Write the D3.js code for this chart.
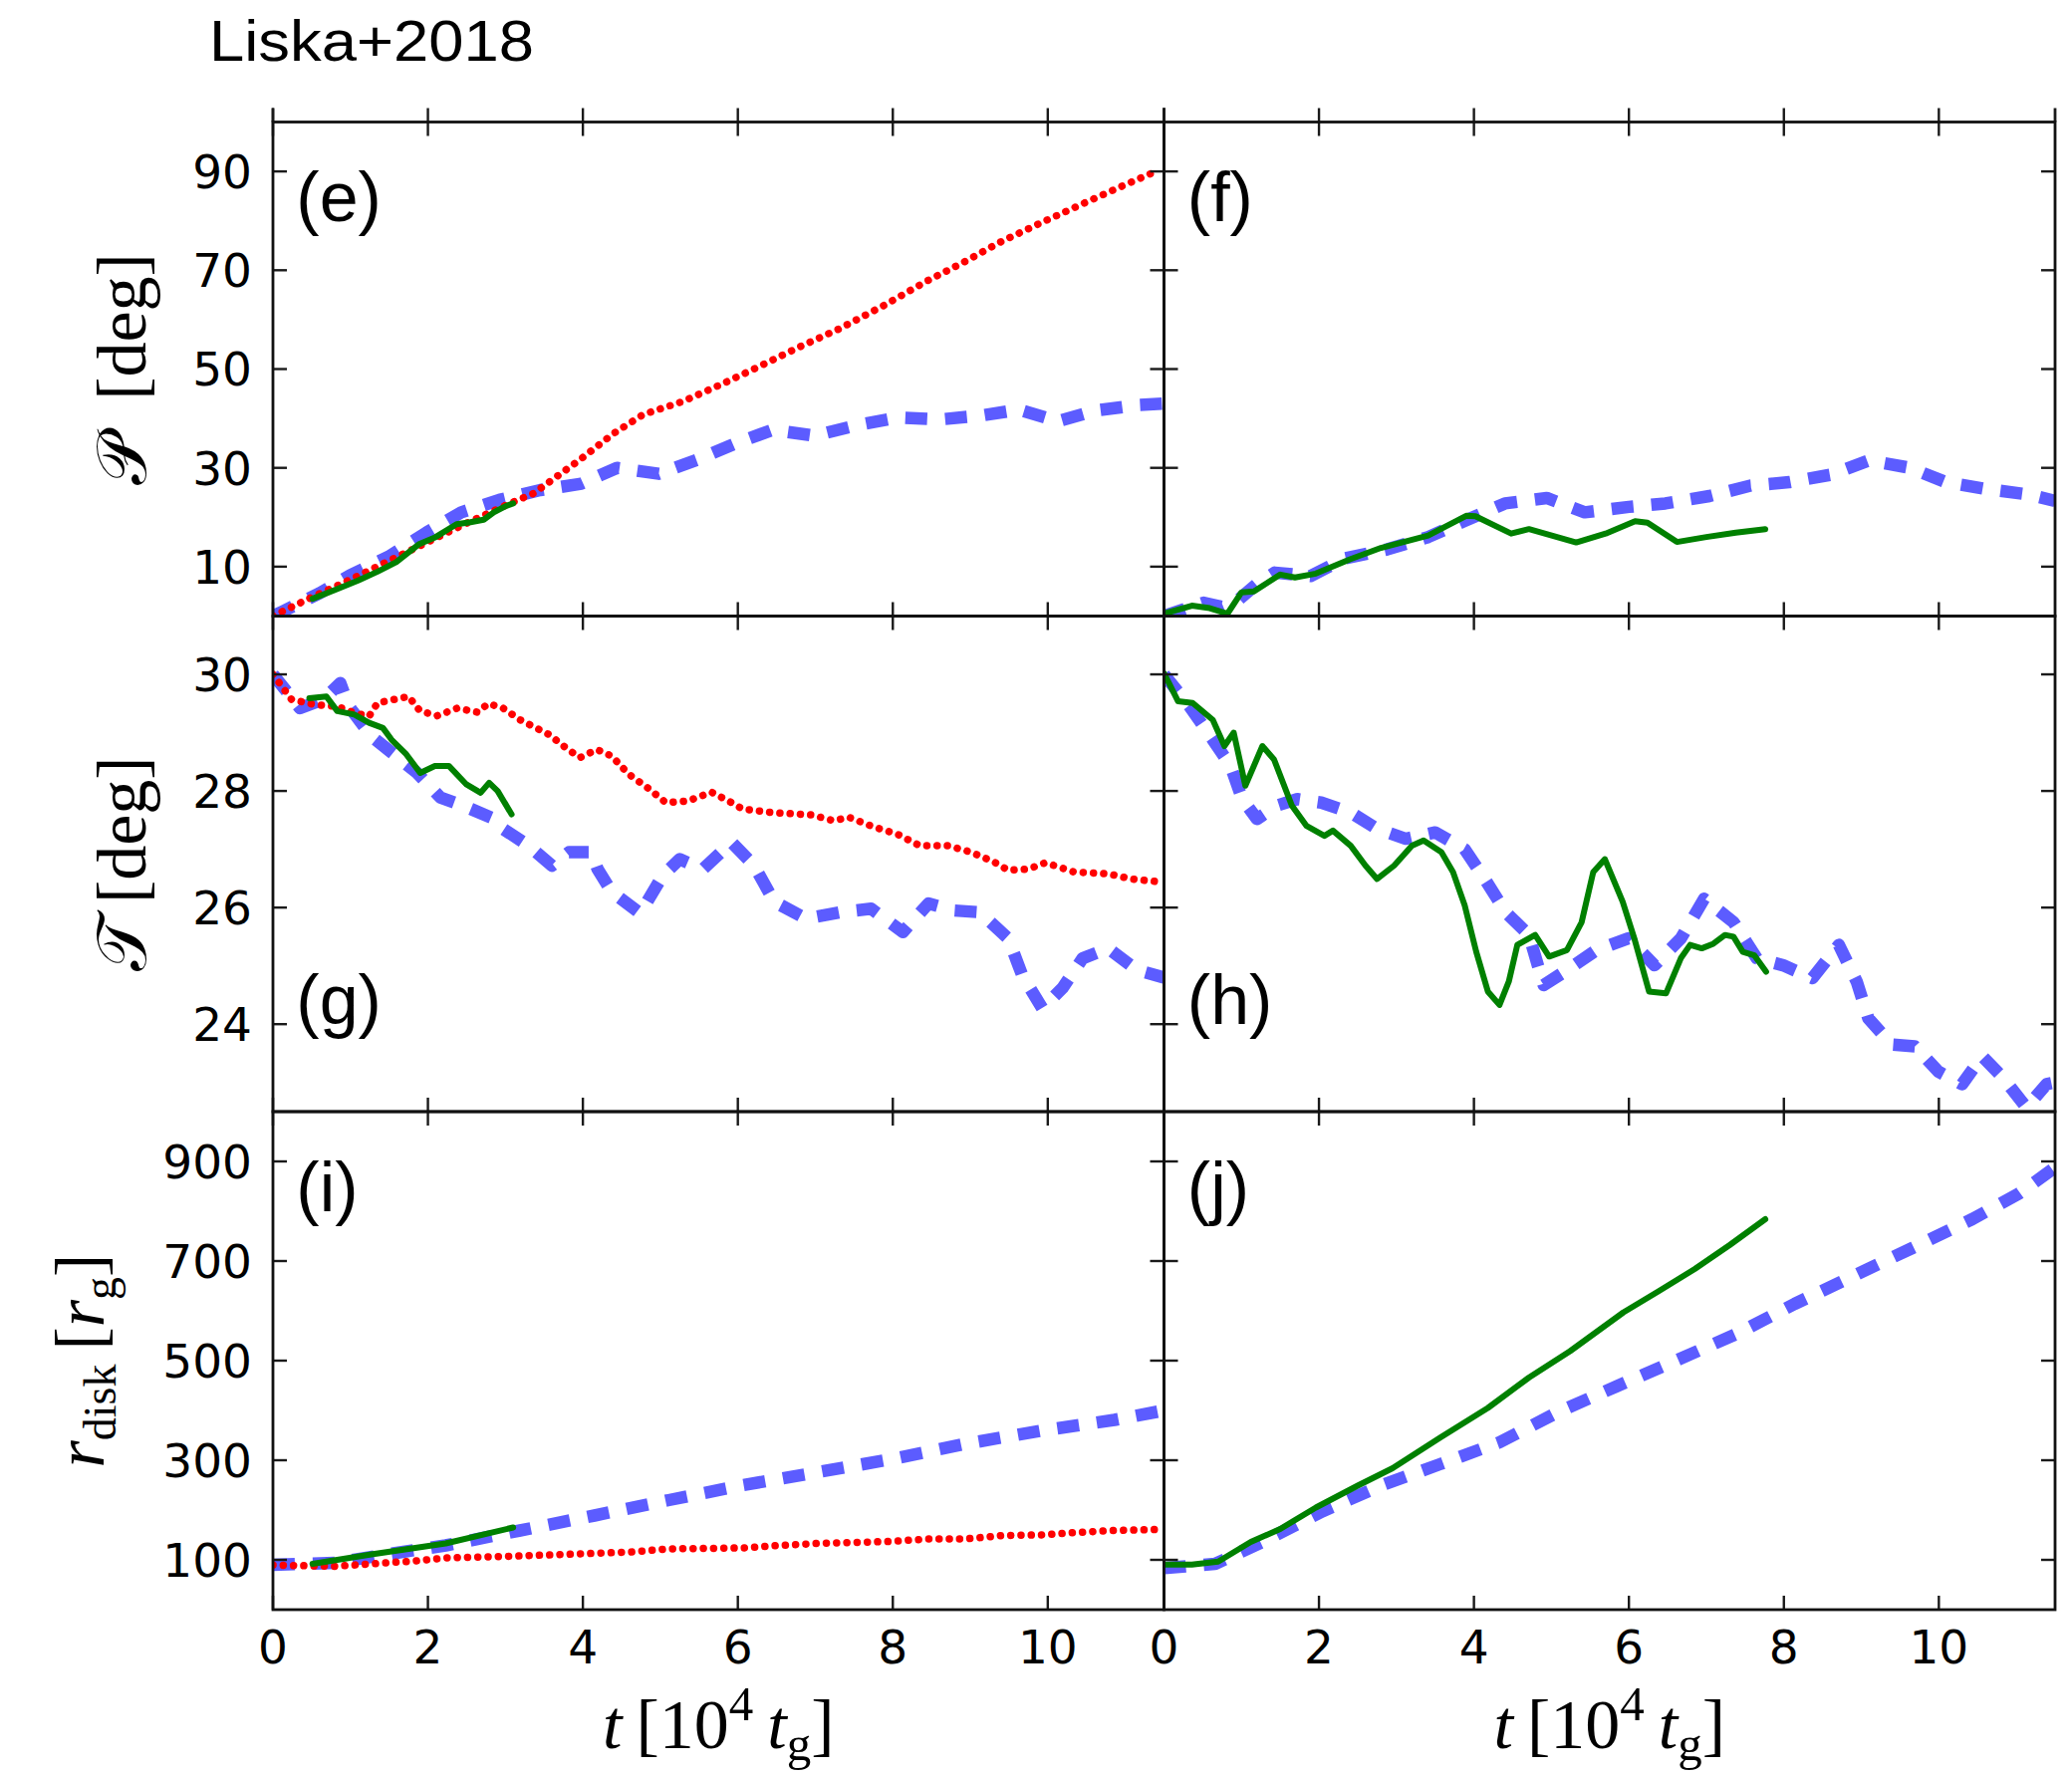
<!DOCTYPE html>
<html>
<head>
<meta charset="utf-8">
<script src="https://cdn.jsdelivr.net/npm/d3@7"></script>
<style>
  html, body { margin: 0; padding: 0; background: #fff; }
  svg { display: block; }
</style>
</head>
<body>
<svg id="fig" width="2080" height="1782"></svg>
<script>
// ---- axes ----
const tDomainX = [0, 11.5];
const tTickValues = [0, 2, 4, 6, 8, 10];
const precDomain = [0, 100];
const precTicks = [10, 30, 50, 70, 90];
const tiltDomain = [22.5, 31];
const tiltTicks = [24, 26, 28, 30];
const rdiskDomain = [0, 1000];
const rdiskTicks = [100, 300, 500, 700, 900];

// ---- (e) precession angle, left column ----
const eBlue = [[0,0],[0.12,0.9],[0.6,4.6],[1.0,8.3],[1.49,12.0],[1.98,16.9],[2.43,21.0],[2.92,23.5],[3.45,25.5],[3.98,26.8],[4.44,30.0],[4.98,28.8],[5.47,31.6],[5.96,34.9],[6.45,37.7],[6.99,36.5],[7.53,38.6],[8.07,40.2],[8.61,39.8],[9.15,40.6],[9.63,41.8],[10.13,39.4],[10.62,41.6],[11.16,42.7],[11.5,43.0]];
const eRed = [[0,0],[0.5,3.8],[1,7.4],[1.5,11.2],[2,15],[2.5,18.8],[3,22.4],[3.36,24.8],[3.95,31.5],[4.4,37],[4.78,40.8],[5.3,43.5],[5.8,47],[6.3,50.7],[6.8,54.5],[7.29,58],[7.9,63],[8.45,67.9],[8.9,71.5],[9.4,75.8],[9.94,79.8],[10.5,83.8],[11,87.3],[11.41,90.1]];
const eGreen = [[0.51,3.5],[0.8,5.3],[1.1,7.2],[1.35,9.0],[1.59,10.9],[1.88,14.5],[2.1,16.0],[2.37,18.6],[2.55,19.0],[2.72,19.5],[2.85,21.0],[3.01,22.3],[3.1,22.8]];

// ---- (f) precession angle, right column ----
const fBlue = [[0,0],[0.51,2.7],[0.74,1.9],[0.97,3.4],[1.2,6.5],[1.43,8.8],[1.89,8.1],[2.34,11.7],[2.88,13.5],[3.41,16.0],[3.87,19.2],[4.4,22.8],[4.94,23.9],[5.43,21.0],[6.0,22.1],[6.47,22.8],[7.04,24.3],[7.57,26.4],[8.07,27.1],[8.6,28.6],[9.1,31.5],[9.63,30.0],[10.09,27.1],[10.62,25.7],[11.16,24.6],[11.5,23.3]];
const fGreen = [[0,0.5],[0.36,2.1],[0.59,1.6],[0.82,0.5],[1.0,4.8],[1.16,5.0],[1.5,8.4],[1.69,7.8],[1.96,8.6],[2.4,11.5],[2.8,13.8],[3.41,16.3],[3.9,20.3],[4.02,20.2],[4.48,16.7],[4.71,17.6],[5.32,14.9],[5.7,16.7],[6.08,19.2],[6.24,18.9],[6.62,15.0],[7.0,16.0],[7.38,16.9],[7.76,17.6]];

// ---- (g) tilt angle, left column ----
const gBlue = [[0,30.0],[0.06,29.9],[0.35,29.42],[0.65,29.57],[0.87,29.85],[0.98,29.45],[1.27,28.94],[1.53,28.66],[1.86,28.31],[2.16,27.89],[2.45,27.75],[2.86,27.52],[2.97,27.35],[3.3,27.06],[3.6,26.72],[3.82,26.95],[4.11,26.95],[4.19,26.66],[4.37,26.27],[4.74,25.9],[5.03,26.55],[5.25,26.83],[5.55,26.66],[5.92,27.12],[6.21,26.72],[6.47,26.1],[6.88,25.81],[7.32,25.92],[7.72,25.98],[8.13,25.58],[8.46,26.07],[8.79,25.95],[9.12,25.92],[9.49,25.47],[9.67,24.84],[9.93,24.27],[10.19,24.62],[10.45,25.13],[10.78,25.3],[11.15,24.93],[11.5,24.8]];
const gRed = [[0,30.0],[0.24,29.57],[0.54,29.48],[0.83,29.45],[1.05,29.34],[1.24,29.28],[1.35,29.51],[1.75,29.62],[1.9,29.37],[2.12,29.29],[2.38,29.42],[2.64,29.35],[2.78,29.5],[2.97,29.42],[3.19,29.22],[3.56,28.97],[3.78,28.74],[3.96,28.57],[4.18,28.71],[4.37,28.6],[4.59,28.29],[4.85,28.04],[5.07,27.8],[5.36,27.83],[5.66,27.98],[5.92,27.8],[6.06,27.69],[6.43,27.63],[6.95,27.59],[7.24,27.49],[7.43,27.55],[7.76,27.38],[8.06,27.26],[8.35,27.06],[8.72,27.06],[9.01,26.95],[9.31,26.78],[9.49,26.64],[9.75,26.66],[9.97,26.77],[10.34,26.61],[10.78,26.58],[11.08,26.49],[11.45,26.44]];
const gGreen = [[0.47,29.59],[0.69,29.62],[0.83,29.37],[1.05,29.31],[1.24,29.17],[1.42,29.08],[1.53,28.88],[1.72,28.63],[1.9,28.31],[2.09,28.43],[2.27,28.43],[2.49,28.12],[2.68,27.97],[2.79,28.14],[2.9,28.0],[3.08,27.6]];

// ---- (h) tilt angle, right column ----
const hBlue = [[0,30.0],[0.33,29.45],[0.63,28.88],[0.86,28.43],[1.01,27.86],[1.2,27.52],[1.46,27.75],[1.72,27.86],[2.03,27.8],[2.41,27.63],[2.75,27.35],[3.12,27.18],[3.5,27.29],[3.88,27.0],[4.14,26.49],[4.41,25.92],[4.71,25.53],[4.9,24.67],[5.24,24.96],[5.58,25.27],[5.99,25.47],[6.33,25.01],[6.67,25.47],[6.97,26.15],[7.35,25.75],[7.65,25.13],[7.99,25.01],[8.37,24.79],[8.71,25.36],[8.94,24.73],[9.09,24.1],[9.39,23.65],[9.69,23.62],[9.99,23.19],[10.3,22.97],[10.56,23.45],[10.83,23.08],[11.13,22.57],[11.39,22.97],[11.5,23.0]];
const hGreen = [[0,30.02],[0.18,29.54],[0.37,29.51],[0.63,29.22],[0.78,28.77],[0.9,29.0],[1.05,28.09],[1.27,28.77],[1.42,28.54],[1.65,27.75],[1.84,27.4],[2.07,27.23],[2.18,27.32],[2.41,27.06],[2.6,26.72],[2.75,26.49],[2.97,26.72],[3.2,27.06],[3.35,27.15],[3.58,26.95],[3.73,26.61],[3.88,26.04],[4.03,25.24],[4.18,24.56],[4.33,24.33],[4.45,24.73],[4.56,25.36],[4.79,25.53],[4.97,25.16],[5.2,25.27],[5.39,25.75],[5.54,26.61],[5.69,26.83],[5.92,26.1],[6.07,25.47],[6.26,24.56],[6.48,24.53],[6.67,25.13],[6.79,25.36],[6.94,25.3],[7.09,25.38],[7.24,25.53],[7.35,25.5],[7.47,25.24],[7.62,25.18],[7.77,24.9]];

// ---- (i) disk radius, left column ----
const iBlue = [[0,90],[0.8,94],[1.47,111],[2.23,129],[3.19,159],[4.15,189],[5.11,220],[6.07,250],[7.03,276],[7.98,302],[8.94,333],[9.9,359],[10.86,381],[11.5,400]];
const iRed = [[0,89.5],[0.8,87],[1.27,92],[1.85,98],[2.23,104],[3.0,107],[3.77,111],[4.63,116],[5.11,122],[6.07,124],[6.55,129],[7.03,133],[7.98,137],[8.46,142],[8.94,142],[9.42,149],[9.9,150],[10.38,155],[10.86,159],[11.43,161]];
const iGreen = [[0.51,92],[1.27,111],[2.23,133],[3.1,165]];

// ---- (j) disk radius, right column ----
const jBlue = [[0,83.5],[0.66,92],[1.27,136],[2.04,197],[2.8,249],[3.56,292],[4.33,336],[5.09,397],[5.85,449],[6.62,501],[7.38,553],[8.14,614],[8.91,671],[9.67,727],[10.43,784],[11.04,836],[11.5,888]];
const jGreen = [[0,90.5],[0.36,90.5],[0.7,96.6],[1.12,136],[1.5,162],[1.96,205],[2.5,249],[2.95,284],[3.56,345],[4.18,405],[4.71,466],[5.24,519],[5.93,597],[6.39,640],[6.85,684],[7.3,732],[7.76,784]];

// panel tags and the data height each tag sits at
const panelTags = ["(e)", "(f)", "(g)", "(h)", "(i)", "(j)"];
const tagHeights = [80, 80, 24, 24, 800, 800];

// ---- layout ----
const svg = d3.select("#fig");
const colEdges = [[274, 1168.5], [1168.5, 2063]];
const rowEdges = [[122.5, 618.5], [618.5, 1116], [1116, 1616]];
const tickLen = 14;

const rowSpecs = [
  { domain: precDomain, ticks: precTicks },
  { domain: tiltDomain, ticks: tiltTicks },
  { domain: rdiskDomain, ticks: rdiskTicks }
];

const panels = [
  { row: 0, col: 0, blue: eBlue, red: eRed, green: eGreen },
  { row: 0, col: 1, blue: fBlue, red: null, green: fGreen },
  { row: 1, col: 0, blue: gBlue, red: gRed, green: gGreen },
  { row: 1, col: 1, blue: hBlue, red: null, green: hGreen },
  { row: 2, col: 0, blue: iBlue, red: iRed, green: iGreen },
  { row: 2, col: 1, blue: jBlue, red: null, green: jGreen }
];

const BLUE = "#5c5cff", RED = "#ff0000", GREEN = "#008000";
const tickFont = "'DejaVu Sans', sans-serif";

// title
svg.append("text")
  .attr("x", 210).attr("y", 61)
  .attr("font-family", "'Liberation Sans', Arial, sans-serif")
  .attr("font-size", 58)
  .attr("textLength", 326).attr("lengthAdjust", "spacingAndGlyphs")
  .attr("fill", "#000")
  .text("Liska+2018");

// the strip of the row above: spine stubs and its bottom ticks
const stripTop = 108.5;
colEdges.forEach(([x0, x1]) => {
  const x = d3.scaleLinear().domain(tDomainX).range([x0, x1]);
  const g = svg.append("g").attr("stroke", "#1a1a1a").attr("fill", "none");
  [x0, x1].forEach(xx => g.append("line").attr("x1", xx).attr("x2", xx)
    .attr("y1", stripTop).attr("y2", rowEdges[0][0]).attr("stroke-width", 2.8));
  tTickValues.forEach(v => g.append("line")
    .attr("x1", x(v)).attr("x2", x(v))
    .attr("y1", rowEdges[0][0]).attr("y2", rowEdges[0][0] - tickLen)
    .attr("stroke-width", 2.4));
});

panels.forEach((p, i) => {
  const [x0, x1] = colEdges[p.col];
  const [y0, y1] = rowEdges[p.row];
  const spec = rowSpecs[p.row];
  const x = d3.scaleLinear().domain(tDomainX).range([x0, x1]);
  const y = d3.scaleLinear().domain(spec.domain).range([y1, y0]);

  const clipId = "clip" + i;
  svg.append("clipPath").attr("id", clipId)
    .append("rect").attr("x", x0).attr("y", y0)
    .attr("width", x1 - x0).attr("height", y1 - y0);

  const plot = svg.append("g").attr("clip-path", `url(#${clipId})`);
  const line = d3.line().x(d => x(d[0])).y(d => y(d[1]));

  plot.append("path").datum(p.blue).attr("d", line)
    .attr("fill", "none").attr("stroke", BLUE)
    .attr("stroke-width", 12.5).attr("stroke-dasharray", "22,18")
    .attr("stroke-linejoin", "round");
  if (p.red) {
    plot.append("path").datum(p.red).attr("d", line)
      .attr("fill", "none").attr("stroke", RED)
      .attr("stroke-width", 7.5).attr("stroke-dasharray", "0.1,10.2")
      .attr("stroke-linecap", "round");
  }
  plot.append("path").datum(p.green).attr("d", line)
    .attr("fill", "none").attr("stroke", GREEN)
    .attr("stroke-width", 6).attr("stroke-linejoin", "round").attr("stroke-linecap", "round");

  // inward ticks on all four sides
  const ax = svg.append("g").attr("stroke", "#1a1a1a").attr("stroke-width", 2.4);
  tTickValues.forEach(v => {
    ax.append("line").attr("x1", x(v)).attr("x2", x(v)).attr("y1", y1).attr("y2", y1 - tickLen);
    ax.append("line").attr("x1", x(v)).attr("x2", x(v)).attr("y1", y0).attr("y2", y0 + tickLen);
  });
  spec.ticks.forEach(v => {
    ax.append("line").attr("x1", x0).attr("x2", x0 + tickLen).attr("y1", y(v)).attr("y2", y(v));
    ax.append("line").attr("x1", x1).attr("x2", x1 - tickLen).attr("y1", y(v)).attr("y2", y(v));
  });

  // frame
  svg.append("rect").attr("x", x0).attr("y", y0)
    .attr("width", x1 - x0).attr("height", y1 - y0)
    .attr("fill", "none").attr("stroke", "#111").attr("stroke-width", 2.8);

  // y tick labels on the left column
  if (p.col === 0) {
    spec.ticks.forEach(v => {
      svg.append("text").attr("x", x0 - 21).attr("y", y(v)).attr("dy", "0.36em")
        .attr("text-anchor", "end").attr("font-family", tickFont).attr("font-size", 47)
        .attr("fill", "#000").text(v);
    });
  }
  // x tick labels on the bottom row
  if (p.row === 2) {
    tTickValues.forEach(v => {
      svg.append("text").attr("x", x(v)).attr("y", y1 + 54)
        .attr("text-anchor", "middle").attr("font-family", tickFont).attr("font-size", 47)
        .attr("fill", "#000").text(v);
    });
  }

  // panel tag
  svg.append("text").attr("x", x(0.3)).attr("y", y(tagHeights[i]))
    .attr("font-family", "'Liberation Sans', Arial, sans-serif").attr("font-size", 70)
    .attr("fill", "#000").text(panelTags[i]);
});

// ---- axis titles ----
const serif = "'Liberation Serif', 'DejaVu Serif', serif";

function xTitle(cx) {
  const t = svg.append("text").attr("x", cx).attr("y", 1755)
    .attr("text-anchor", "middle").attr("font-family", serif).attr("font-size", 70).attr("fill", "#000");
  t.append("tspan").attr("font-style", "italic").text("t");
  t.append("tspan").text("\u2009[10");
  t.append("tspan").attr("font-size", 49).attr("dy", -28).text("4");
  t.append("tspan").attr("font-style", "italic").attr("dy", 28).text("\u2009t");
  t.append("tspan").attr("font-size", 49).attr("dy", 12).text("g");
  t.append("tspan").attr("dy", -12).text("]");
}
xTitle((colEdges[0][0] + colEdges[0][1]) / 2);
xTitle((colEdges[1][0] + colEdges[1][1]) / 2);

function yTitle(bx, cy) {
  return svg.append("text").attr("transform", `translate(${bx},${cy}) rotate(-90)`)
    .attr("text-anchor", "middle").attr("font-family", serif).attr("font-size", 70).attr("fill", "#000");
}
const yt0 = yTitle(146, (rowEdges[0][0] + rowEdges[0][1]) / 2);
yt0.append("tspan").text("\uD835\uDCAB");
yt0.append("tspan").text("\u2002[deg]");

const yt1 = yTitle(146, (rowEdges[1][0] + rowEdges[1][1]) / 2);
yt1.append("tspan").text("\uD835\uDCAF");
yt1.append("tspan").text("\u2009[deg]");

const yt2 = yTitle(104, (rowEdges[2][0] + rowEdges[2][1]) / 2);
yt2.append("tspan").attr("font-style", "italic").text("r");
yt2.append("tspan").attr("font-size", 46).attr("dy", 12).text("disk");
yt2.append("tspan").attr("dy", -12).text("\u2009[");
yt2.append("tspan").attr("font-style", "italic").text("r");
yt2.append("tspan").attr("font-size", 46).attr("dy", 12).text("g");
yt2.append("tspan").attr("dy", -12).text("]");
</script>
</body>
</html>
